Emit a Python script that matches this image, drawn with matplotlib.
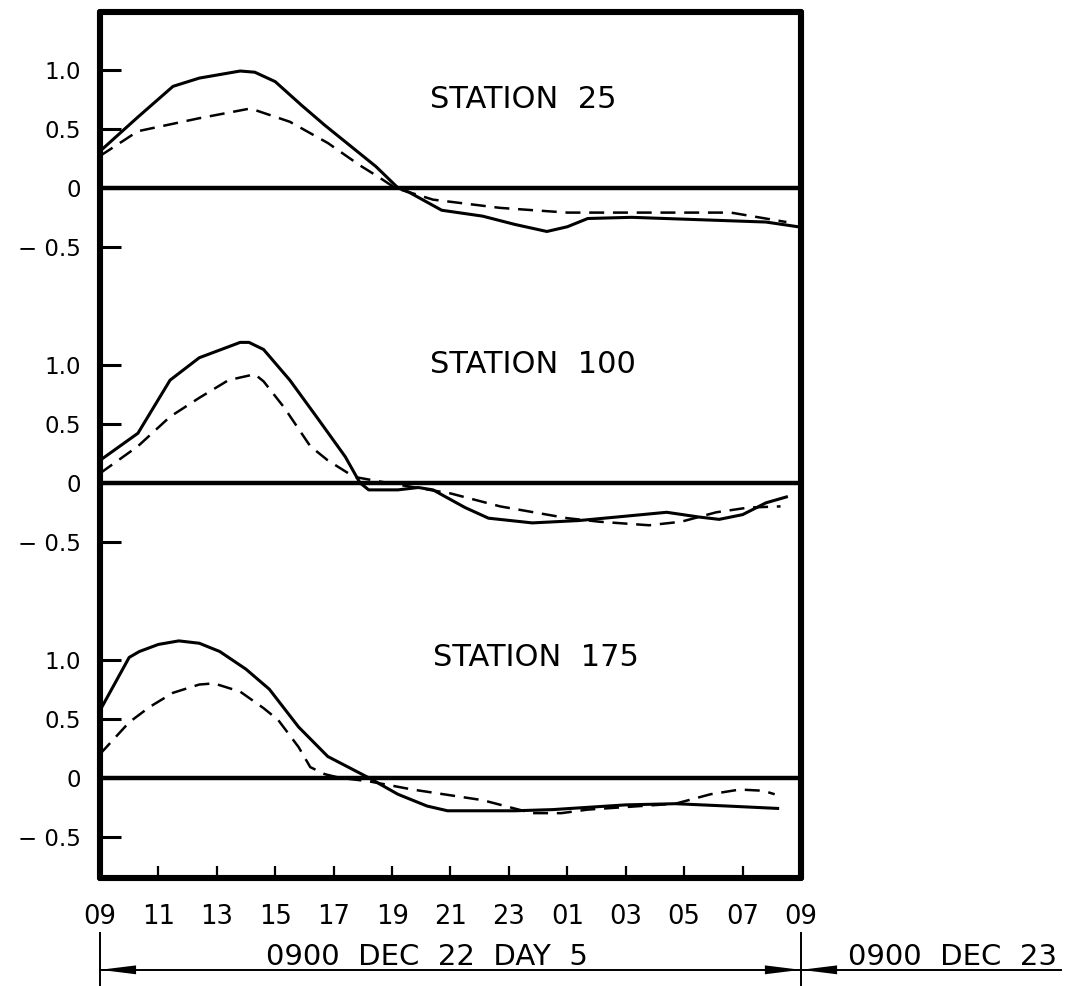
import matplotlib.pyplot as plt
from matplotlib.patches import FancyArrowPatch

# hours after 0900 Dec 22
station_names = ["STATION  25", "STATION  100", "STATION  175"]

h25_solid = [0, 1.3, 2.5, 3.4, 4.8, 5.3, 6.0, 6.9, 7.7, 8.6, 9.45, 10.2, 10.6, 11.7, 13.1,
             14.2, 15.3, 16.0, 16.7, 18.2, 20.5, 22.8, 23.9]
v25_solid = [0.31, 0.60, 0.86, 0.93, 0.99, 0.98, 0.90, 0.70, 0.53, 0.35, 0.18, 0.0, -0.04, -0.19, -0.24,
             -0.31, -0.37, -0.33, -0.26, -0.25, -0.27, -0.29, -0.33]
h25_dash = [0, 1.3, 3.4, 5.1, 5.3, 6.5, 7.8, 8.9, 9.55, 10.1, 11.4, 13.7, 16.0, 18.2, 20.5, 21.6, 23.5]
v25_dash = [0.27, 0.48, 0.59, 0.67, 0.66, 0.56, 0.38, 0.19, 0.09, 0.0, -0.10, -0.17, -0.21, -0.21,
            -0.21, -0.21, -0.29]

h100_solid = [0, 1.3, 2.4, 3.4, 4.8, 5.1, 5.6, 6.5, 7.5, 8.4, 8.9, 9.2, 10.2, 10.9, 11.4, 12.5, 13.3,
              14.8, 16.4, 17.7, 19.4, 20.5, 21.2, 22.0, 22.8, 23.5]
v100_solid = [0.19, 0.42, 0.87, 1.06, 1.19, 1.19, 1.13, 0.87, 0.53, 0.22, 0.0, -0.06, -0.06, -0.04,
              -0.06, -0.21, -0.30, -0.34, -0.32, -0.29, -0.25, -0.29, -0.31, -0.27, -0.17, -0.12]
h100_dash = [0, 1.3, 2.4, 3.4, 4.4, 5.3, 5.6, 6.3, 7.2, 7.8, 8.7, 9.6, 12.0, 13.7, 16.0, 17.1, 18.8,
             19.9, 21.1, 22.2, 23.3]
v100_dash = [0.08, 0.31, 0.56, 0.72, 0.87, 0.92, 0.86, 0.64, 0.31, 0.19, 0.05, 0.01, -0.09, -0.20,
             -0.30, -0.33, -0.36, -0.33, -0.25, -0.21, -0.20]

h175_solid = [0, 1.0, 1.35, 2.0, 2.7, 3.4, 4.1, 5.0, 5.8, 6.8, 7.8, 9.2, 10.2, 11.2, 11.9, 14.2,
              15.5, 18.0, 19.7, 21.5, 23.2]
v175_solid = [0.57, 1.02, 1.07, 1.13, 1.16, 1.14, 1.07, 0.92, 0.75, 0.43, 0.18, 0.0, -0.14, -0.24,
              -0.28, -0.28, -0.27, -0.23, -0.22, -0.24, -0.26]
h175_dash = [0, 1.0, 1.7, 2.5, 3.4, 3.9, 4.8, 5.6, 6.1, 6.8, 7.2, 7.7, 8.2, 9.2, 10.7, 13.1, 14.8,
             15.8, 16.7, 18.5, 19.7, 20.9, 21.9, 22.7, 23.1]
v175_dash = [0.20, 0.47, 0.60, 0.72, 0.79, 0.80, 0.73, 0.59, 0.49, 0.26, 0.09, 0.03, 0.0, -0.03,
             -0.10, -0.19, -0.30, -0.30, -0.27, -0.24, -0.22, -0.14, -0.10, -0.11, -0.14]

hour_labels = ["09", "11", "13", "15", "17", "19", "21", "23", "01", "03", "05", "07", "09"]
value_ticks = [1.0, 0.5, 0.0, -0.5]
value_labels = ["1.0", "0.5", "0", "\u2212 0.5"]

series = [
    (h25_solid, v25_solid, h25_dash, v25_dash),
    (h100_solid, v100_solid, h100_dash, v100_dash),
    (h175_solid, v175_solid, h175_dash, v175_dash),
]
panel_step = 2.5
label_pos = [(11.3, 0.75), (11.3, 1.0), (11.4, 1.02)]

plt.rcParams['font.family'] = ['DejaVu Sans']

fig = plt.figure(figsize=(10.68, 9.86), dpi=100)
ax = fig.add_axes([0.0936, 0.1095, 0.6564, 0.8783])

yticks = []
ylabels = []
for k, (hs, vs, hd, vd) in enumerate(series):
    off = -panel_step * k
    ax.plot(hs, [v + off for v in vs], color="black", lw=2.2, solid_joinstyle="round")
    ax.plot(hd, [v + off for v in vd], color="black", lw=1.8, dashes=(6, 3.5))
    ax.axhline(off, color="black", lw=3.2)
    ax.text(label_pos[k][0], label_pos[k][1] + off, station_names[k], fontsize=22,
            ha="left", va="center")
    for t, lab in zip(value_ticks, value_labels):
        yticks.append(t + off)
        ylabels.append(lab)

ax.set_xlim(0, 24)
ax.set_ylim(-5.85, 1.49)
ax.set_yticks(yticks)
ax.set_yticklabels(ylabels, fontsize=16.5)
ax.set_xticks(range(0, 25, 2))
ax.set_xticklabels(hour_labels, fontsize=18.5)
ax.tick_params(axis="y", direction="in", length=15, width=2.2, pad=14)
ax.tick_params(axis="x", direction="in", length=9, width=1.6, pad=19)
for sp in ax.spines.values():
    sp.set_linewidth(4.4)
    sp.set_capstyle("round")

# time span markers under the axis
tr = ax.get_xaxis_transform()
span_y = -0.106
for xv in (0, 24):
    ax.plot([xv, xv], [-0.0635, -0.13], color="black", lw=1.4, transform=tr, clip_on=False)
ax.plot([0, 32.9], [span_y, span_y], color="black", lw=1.4, transform=tr, clip_on=False)

# filled heads only, so the tips sit right on the vertical marks
head_kw = dict(arrowstyle="-|>,head_length=1.3,head_width=0.16", mutation_scale=20,
               color="black", lw=0, shrinkA=0, shrinkB=0, transform=tr, clip_on=False)
ax.add_patch(FancyArrowPatch((2, span_y), (0, span_y), **head_kw))
ax.add_patch(FancyArrowPatch((22, span_y), (24, span_y), **head_kw))
ax.add_patch(FancyArrowPatch((26, span_y), (24, span_y), **head_kw))

ax.text(11.2, -0.091, "0900  DEC  22  DAY  5", fontsize=21, ha="center", va="center",
        transform=tr)
ax.text(29.2, -0.091, "0900  DEC  23", fontsize=21, ha="center", va="center", transform=tr)

fig.savefig("out.png", dpi=100)
